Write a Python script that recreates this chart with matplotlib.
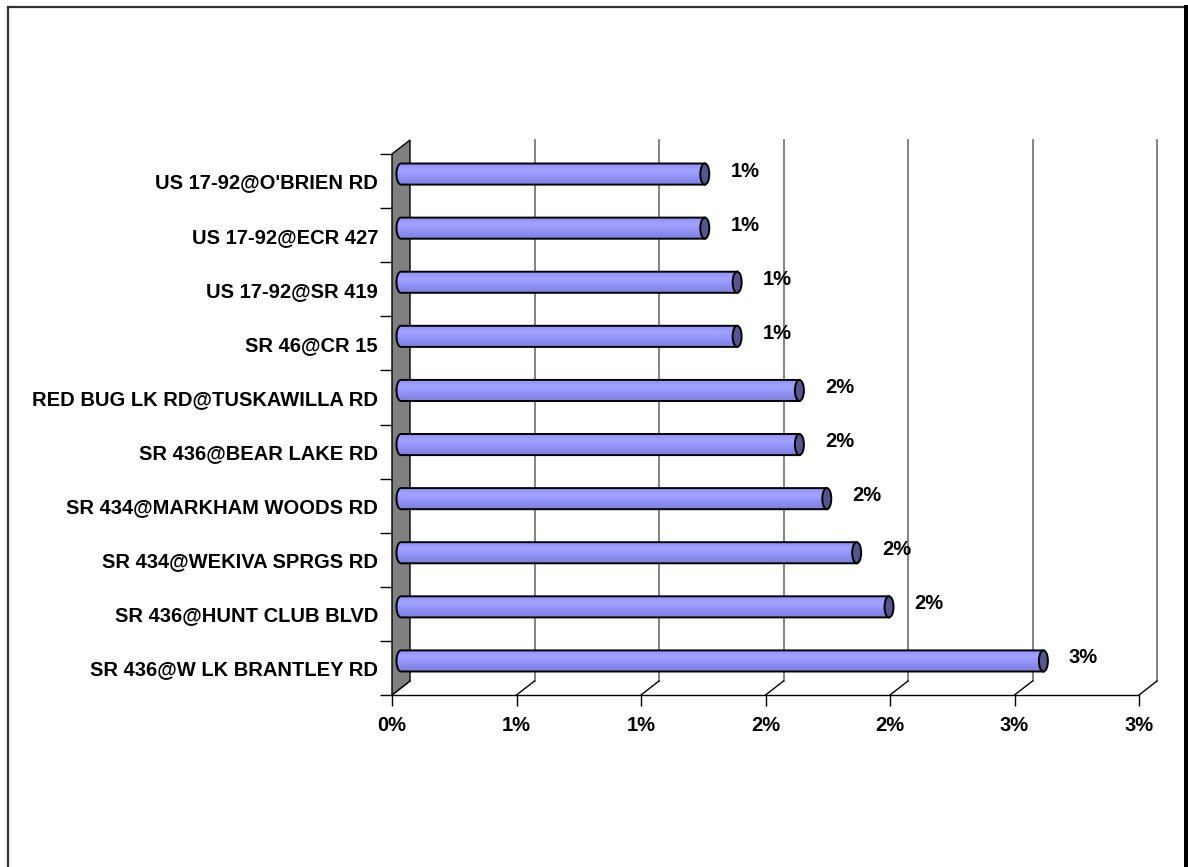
import matplotlib
matplotlib.use("Agg")
import matplotlib.pyplot as plt
import matplotlib.transforms as mtransforms
from matplotlib.patches import Polygon, Ellipse, PathPatch
from matplotlib.path import Path
from matplotlib.lines import Line2D
from matplotlib.colors import LinearSegmentedColormap
import numpy as np

plt.rcParams['font.family'] = ['Liberation Sans', 'DejaVu Sans']

# bottom to top, as in the chart
intersections = ["SR 436@W LK BRANTLEY RD", "SR 436@HUNT CLUB BLVD",
                 "SR 434@WEKIVA SPRGS RD", "SR 434@MARKHAM WOODS RD",
                 "SR 436@BEAR LAKE RD", "RED BUG LK RD@TUSKAWILLA RD",
                 "SR 46@CR 15", "US 17-92@SR 419", "US 17-92@ECR 427",
                 "US 17-92@O'BRIEN RD"]
pct = [2.58, 1.96, 1.83, 1.71, 1.60, 1.60, 1.35, 1.35, 1.22, 1.22]
x_ticks = [0, 0.5, 1.0, 1.5, 2.0, 2.5, 3.0]
x_ticklabels = ["0%", "1%", "1%", "2%", "2%", "3%", "3%"]

FS = 14.5
W, H = 1188, 867
fig = plt.figure(figsize=(W / 100, H / 100), dpi=100)
# front plane of the 3d box
ax = fig.add_axes([392 / W, (H - 695) / H, 747 / W, 541 / H])
n = len(intersections)
ax.set_xlim(0, 3.0)
ax.set_ylim(-0.5, n - 0.5)

DX, DY = 18, 14
back = mtransforms.offset_copy(ax.transData, fig=fig, x=DX, y=DY, units='dots')
mid = mtransforms.offset_copy(ax.transData, fig=fig, x=DX / 2, y=DY / 2, units='dots')
pix = mtransforms.IdentityTransform()

# back wall gridlines
for t in x_ticks[1:]:
    ax.plot([t, t], [-0.5, n - 0.5], color="#7a7a7a", lw=1.3, transform=back,
            clip_on=False, zorder=1)

# floor diagonals
for t in x_ticks:
    p0 = ax.transData.transform((t, -0.5))
    p1 = back.transform((t, -0.5))
    ax.add_line(Line2D([p0[0], p1[0]], [p0[1], p1[1]], color="black", lw=1.0,
                       transform=pix, clip_on=False, zorder=2))

# side wall
p_fb = ax.transData.transform((0, -0.5))
p_bb = back.transform((0, -0.5))
p_bt = back.transform((0, n - 0.5))
p_ft = ax.transData.transform((0, n - 0.5))
wall = Polygon(np.array([p_fb, p_bb, p_bt, p_ft]), closed=True,
               facecolor="#808080", edgecolor="black", lw=1.0,
               transform=pix, zorder=3, clip_on=False)
ax.add_patch(wall)

# bars as cylinders
bh = 0.39
rx = 4.5 / 249
cmap = LinearSegmentedColormap.from_list(
    "cyl", ["#7f7fdc", "#8787e8", "#9090f4", "#9999ff", "#a3a3ff", "#9999ff", "#8d8df0"])
grad = np.linspace(0, 1, 64).reshape(-1, 1)
th = np.linspace(np.pi / 2, 3 * np.pi / 2, 30)
for i, v in enumerate(pct):
    y0, y1 = i - bh / 2, i + bh / 2
    verts = [(0, y0), (v, y0), (v, y1), (0, y1)]
    verts += [(rx * np.cos(a), i + bh / 2 * np.sin(a)) for a in th]
    verts.append((0, y0))
    body = PathPatch(Path(verts), facecolor="none", edgecolor="black", lw=1.4,
                     transform=mid, zorder=5, clip_on=False)
    ax.add_patch(body)
    im = ax.imshow(grad, cmap=cmap, aspect="auto", extent=(-rx, v, y0, y1),
                   origin="lower", transform=mid, zorder=4, interpolation="bilinear")
    im.set_clip_path(body)
    cap = Ellipse((v, i), 2 * rx, bh, facecolor="#55558f", edgecolor="black",
                  lw=1.4, transform=mid, zorder=6, clip_on=False)
    ax.add_patch(cap)
    ax.annotate(f"{v:.0f}%", (v, i), xytext=(40 + DX / 2, 3 + DY / 2),
                textcoords="offset pixels", ha="center", va="center",
                fontsize=FS, fontweight="bold", annotation_clip=False)

ax.set_xlim(0, 3.0)
ax.set_ylim(-0.5, n - 0.5)

for s in ["left", "top", "right"]:
    ax.spines[s].set_visible(False)
ax.spines["bottom"].set_linewidth(1.0)
ax.set_xticks(x_ticks)
ax.set_xticklabels(x_ticklabels, fontsize=FS, fontweight="bold")
ax.tick_params(axis="x", direction="out", length=8, width=1.0, pad=7)
ax.set_yticks(np.arange(-0.5, n, 1.0))
ax.set_yticklabels([])
ax.set_yticks(np.arange(n), minor=True)
ax.set_yticklabels(intersections, minor=True, fontsize=FS, fontweight="bold")
ax.tick_params(axis="y", which="major", direction="out", length=8.6, width=1.0)
ax.tick_params(axis="y", which="minor", length=0, pad=10)
ax.patch.set_visible(False)

# outer frame
fig.add_artist(Line2D([8 / W, 8 / W], [0, 1 - 7 / H], color="#333333", lw=1.6,
                      transform=fig.transFigure))
fig.add_artist(Line2D([8 / W, 1185 / W], [1 - 7 / H, 1 - 7 / H], color="#333333",
                      lw=1.6, transform=fig.transFigure))
fig.add_artist(Line2D([1185.5 / W, 1185.5 / W], [0, 1 - 7 / H], color="black", lw=3.6,
                      transform=fig.transFigure))

fig.savefig("out.png", dpi=100)
